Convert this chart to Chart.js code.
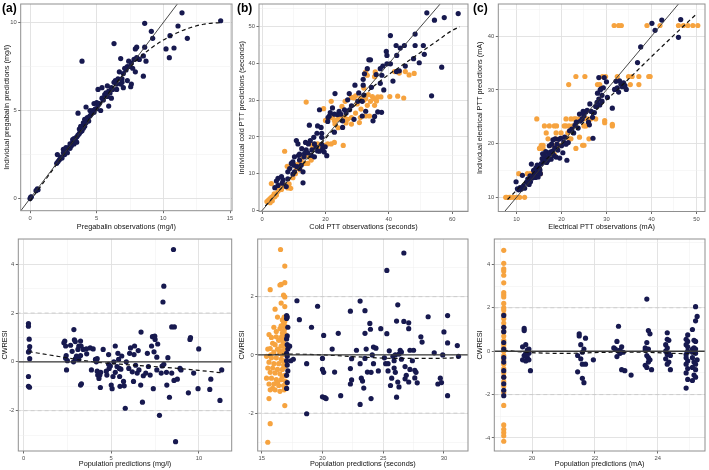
<!DOCTYPE html>
<html>
<head>
<meta charset="utf-8">
<script src="https://cdn.jsdelivr.net/npm/chart.js@4.4.0/dist/chart.umd.min.js"></script>
<style>
  body { margin: 0; background: #fff; width: 709px; height: 470px; position: relative; overflow: hidden; }
  canvas { position: absolute; }
  .tag { position: absolute; font: bold 12px "Liberation Sans", Arial, sans-serif; line-height: 12px; color: #000; }
</style>
</head>
<body>
<div class="tag" style="left:2px;top:2px">(a)</div>
<div class="tag" style="left:237px;top:2px">(b)</div>
<div class="tag" style="left:473px;top:2px">(c)</div>
<script>
// ---- data ----
const NAVY = "#17194f";
const ORANGE = "#f6a33f";

// (a) pregabalin: [observation, individual prediction]
const pregNavy = [
  [0,0],[0.05,0.08],[0.1,0.1],[0.45,0.45],[0.55,0.55],[0.6,0.5],
  [2.0,2.0],[2.05,2.5],[2.1,2.1],[2.2,2.2],[2.3,2.35],[2.4,2.3],[2.5,2.6],[2.5,2.8],[2.6,2.5],[2.7,2.7],[2.7,2.9],[2.8,2.6],[2.9,2.9],[3.0,2.85],[3.0,3.1],[3.1,3.0],[3.2,3.2],[3.2,3.35],[3.3,3.1],[3.3,3.4],[3.4,3.3],[3.5,3.5],[3.5,3.2],[3.6,3.6],[3.6,4.85],[3.7,3.7],[3.7,3.95],[3.8,3.8],[3.8,4.1],[3.9,3.85],[3.9,7.8],
  [4.0,4.0],[4.0,4.3],[4.1,4.1],[4.1,4.5],[4.2,4.3],[4.2,5.2],[4.3,4.6],[4.4,4.4],[4.5,4.7],[4.5,5.0],[4.6,4.8],[4.7,5.0],[4.8,4.9],[4.8,5.4],[4.9,5.1],[5.0,5.1],[5.0,5.45],[5.1,5.3],[5.1,6.2],[5.2,5.4],[5.3,5.0],[5.4,5.7],[5.4,6.3],[5.5,5.6],[5.6,5.9],[5.7,6.0],[5.8,5.8],[5.8,6.4],[5.9,6.1],[5.9,5.25],
  [6.0,6.0],[6.1,6.3],[6.1,5.7],[6.2,6.2],[6.3,8.8],[6.3,6.6],[6.4,6.7],[6.5,6.5],[6.5,6.2],[6.6,6.8],[6.7,7.2],[6.8,7.95],[6.8,6.5],[6.9,6.8],[6.9,6.6],[7.0,7.1],[7.0,6.3],[7.1,7.4],[7.2,7.3],[7.3,7.5],[7.3,6.7],[7.4,7.8],[7.5,7.5],[7.6,7.7],[7.6,6.5],[7.55,6.35],[7.7,7.4],[7.8,7.9],[7.9,8.5],[7.9,7.2],
  [8.0,8.6],[8.0,8.0],[8.2,7.9],[8.5,8.1],[8.5,6.95],[8.6,9.95],[8.6,8.6],[8.7,7.8],[9.1,9.5],[9.2,9.1],[10.2,8.5],[10.45,8.0],[10.5,9.25],[10.8,8.55],[11.1,9.8],[11.4,10.55],[11.8,9.1],[14.3,10.1]
];
const pregLoessX = [0, 1, 2, 3, 4, 5, 6, 7, 8, 9, 10, 11, 12, 13, 14.3];
const pregLoessY = [-0.15, 0.9, 1.95, 3.0, 4.05, 5.1, 6.1, 7.05, 7.85, 8.5, 9.0, 9.4, 9.7, 9.9, 10.0];

// (b) cold PTT
const coldNavy = [
  [52,53.8],[54.4,51.8],[57.5,52.5],[61.9,53.6],[56.7,39.0],[53.5,31.2],
  [48.3,48.0],[48.3,44.9],[50.9,44.9],[51.2,42.5],[49.6,40.2],[47.8,41.3],[44.9,44.9],[42.3,44.9],[43.6,44.2],[42.5,42.2],[40.5,47.6],[39.2,43.3],[39.4,42.2],[39.4,39.9],[38.1,39.3],[40.5,39.9],[41.3,35.2],[42.4,37.8],[43.3,38.0],[45.2,39.3],
  [37.3,38.6],[37.8,36.8],[37.3,34.6],[38.4,32.8],[37.7,26.7],[36.5,26.8],[35.5,25.6],[33.7,41.0],[34.2,41.0],[33.2,38.6],[32.3,37.2],[31.9,35.7],[31.9,34.1],[32.1,31.4],[31.6,29.7],[30.2,29.7],[29.3,34.1],[27.0,30.1],[28.2,28.5],[27.6,27.4],[26.0,27.4],[24.3,27.0],[23.8,26.1],[22.8,26.2],[22.2,27.9],[23.0,31.8],[21.2,25.7],[20.7,24.2],[25.4,22.6],[25.4,24.4],[29.0,24.8],[31.6,25.7],[32.7,27.0],[35.0,24.4],
  [18.1,27.4],[17.5,23.0],[18.8,21.0],[18.8,19.9],[18.8,18.0],[19.1,16.8],[19.6,15.9],[20.4,14.9],[17.5,16.2],[17.0,17.2],[16.5,18.1],[16.3,19.9],[14.9,23.2],[14.6,18.1],[15.7,16.5],[13.9,16.5],[13.4,15.5],[11.8,15.3],[11.5,15.0],[10.8,19.0],[11.3,18.1],[10.2,14.6],[9.7,13.2],[10.0,12.3],[11.0,11.9],[11.8,11.4],[12.3,12.3],[12.9,10.5],[12.9,7.5],[10.2,10.5],[9.7,9.9],[8.1,10.5],[8.1,8.6],[7.6,6.5],[6.6,8.3],[6.1,9.2],[5.0,8.7],[4.5,8.0],[5.0,6.8],[4.0,6.2],[6.3,7.4],[8.7,11.4],[9.2,12.8],
  [13.7,18.5],[14.4,15.7],[15.5,15.0],[16.5,14.6],[18.1,16.1],[19.9,17.3],[11.8,13.7],[13.2,14.6],[12.5,16.8],[15.2,19.0],[17.3,21.0],[18.6,22.6],[22.8,21.3],[27.5,31.8],[30.5,32.0],[26.5,26.5],[24.8,26.2],[21.5,26.6],[20.8,25.3],[34.5,33.5],[36.0,37.0]
];
const coldOrange = [
  [1.5,2.4],[2.0,2.8],[2.5,3.2],[3.0,3.6],[3.5,3.9],[4.0,3.7],[2.5,2.1],[3.2,2.6],[4.5,4.2],[5.0,5.2],[2.9,7.3],[7.1,16.1],[7.1,6.6],[8.1,6.1],[6.1,5.7],[7.9,12.0],[9.7,8.9],[10.8,11.4],[11.8,12.8],[12.3,13.7],[13.4,12.8],[12.9,14.6],[13.9,15.0],[15.0,14.6],[14.4,12.8],
  [15.5,18.0],[16.5,18.0],[17.5,18.1],[18.6,17.7],[19.6,17.7],[20.7,18.1],[21.8,18.1],[22.8,18.5],[25.6,17.7],[15.5,13.7],[13.9,29.5],[19.4,27.7],[21.8,29.7],[22.2,25.3],[22.8,24.4],[23.8,24.8],[24.9,25.7],[26.0,25.3],[27.0,24.8],[28.2,25.3],[28.2,23.5],[30.7,23.9],[25.2,28.3],[26.2,29.7],[28.2,30.8],[29.0,30.6],[29.5,31.2],
  [31.0,30.6],[32.1,30.0],[32.7,30.4],[31.2,27.6],[32.7,25.7],[33.9,25.7],[34.2,29.7],[35.5,30.4],[36.1,29.8],[35.5,28.6],[33.2,28.6],[32.1,33.3],[32.7,37.7],[33.2,36.8],[35.5,36.4],[35.7,37.7],[37.5,30.9],[40.3,31.0],[42.8,31.1],[44.7,30.6],[41.8,37.8],[43.3,37.4],[45.2,37.8],[46.4,36.9],[48.0,37.3],[31.0,25.3],
  [5.5,6.3],[6.8,7.0],[8.5,7.2],[10.5,10.0],[11.0,12.5],[9.0,6.0],[12.0,11.0],[20.0,24.5],[21.0,25.0],[23.0,23.5],[24.0,22.5],[26.5,23.8],[29.5,26.5],[30.0,29.0],[33.5,31.5],[34.8,31.0],[36.5,30.9],[16.0,17.0],[18.0,17.2],[6.0,6.8],[3.8,4.5]
];
const coldLoessX = [1, 5, 10, 15, 20, 25, 30, 35, 40, 45, 50, 55, 60, 62.4];
const coldLoessY = [1.2, 5.0, 9.8, 14.6, 19.6, 24.5, 29.2, 33.6, 37.0, 40.0, 43.0, 46.0, 49.0, 50.0];

// (c) electrical PTT
const elecNavy = [
  [9.9,12.9],[10.2,11.6],[10.5,11.4],[10.8,11.8],[11.0,11.5],[11.3,14.1],[11.5,12.1],[11.8,11.7],[12.2,12.8],[12.5,13.4],[12.8,12.4],[13.0,14.0],[13.1,12.9],[13.3,16.2],[13.5,13.6],[13.8,15.0],[14.0,14.2],[14.2,13.7],[14.3,15.5],[14.5,14.8],[14.6,16.0],[14.8,13.8],[14.9,14.6],[15.0,15.8],[15.2,15.1],[15.3,14.4],[15.5,16.3],[15.7,17.2],[15.8,18.1],[16.0,16.6],[16.2,17.8],[16.4,17.0],[16.5,18.5],[16.7,16.5],[16.9,17.4],[17.0,16.9],[17.2,18.0],[17.3,19.6],[17.5,18.4],[17.7,17.1],[17.8,19.9],[18.0,18.6],[18.1,20.7],[18.3,17.8],[18.5,19.2],[18.6,20.9],[18.8,17.5],[19.0,19.9],[19.2,18.8],[19.4,20.8],[19.6,17.3],[19.8,21.0],
  [20.0,19.6],[20.3,18.3],[20.5,20.3],[20.7,21.2],[21.0,19.9],[21.2,16.9],[21.5,20.2],[21.8,22.4],[22.3,22.7],[22.7,22.0],[23.0,23.4],[23.3,24.0],[23.7,22.9],[24.0,25.5],[24.2,24.2],[24.6,24.6],[24.8,26.0],[25.0,25.2],[25.4,25.9],[25.7,26.2],[26.0,24.0],[26.2,23.5],[26.3,27.4],[26.6,26.0],[26.9,24.9],[27.0,21.0],[27.3,25.8],[27.6,26.9],[27.9,27.7],[28.0,29.4],[28.3,28.3],[28.5,27.2],[28.8,30.2],[29.0,27.9],[29.3,30.4],[29.5,32.3],[30.0,31.5],[30.2,28.6],[28.3,32.3],[28.6,30.0],[29.0,29.0],
  [31.3,26.6],[31.8,30.1],[32.1,31.6],[32.4,30.4],[32.7,29.6],[32.9,31.7],[33.2,31.1],[33.5,30.6],[33.8,31.3],[34.1,30.8],[34.4,30.1],[36.9,35.1],[37.6,38.0],[40.1,42.4],[40.8,41.1],[42.3,43.0],[46.0,39.8],[46.5,43.1]
];
const elecOrange = [
  [31.7,42],[32.7,42],[33.3,42],[39.0,42],[41.9,42],[46.0,42],[47.1,42],[48.1,42],[49.2,42],[50.3,42],
  [23.2,32.5],[25.2,32.5],[29.1,32.5],[29.8,32.5],[32.4,32.5],[34.9,32.5],[35.7,32.5],[37.2,32.5],[39.4,32.5],[39.7,32.5],
  [21.6,31],[28.0,31],[28.5,31],[33.9,31],[35.3,31],[37.2,31],
  [21.0,24.6],[22.1,24.6],[22.8,24.6],[23.2,24.6],[23.9,24.6],[24.6,24.6],[25.0,24.6],[25.7,24.6],[26.5,24.6],[27.6,24.6],[29.6,24.3],[14.5,24.6],
  [16.2,23.3],[17.3,23.3],[18.4,23.3],[18.9,23.3],[20.6,23.3],[21.0,23.3],[21.7,23.3],[22.5,23.3],[23.2,23.3],[25.0,23.3],[25.4,23.3],[31.3,23.3],[29.6,23.9],[31.3,23.6],
  [16.6,22.0],[18.8,22.0],[19.9,22.0],[21.4,22.0],
  [17.0,20.9],[18.8,20.9],[21.7,20.9],[22.1,20.9],[26.1,20.9],[24.0,21.2],
  [15.5,19.7],[15.9,19.7],[18.1,19.7],[19.0,19.7],[19.6,19.7],[24.7,19.7],[25.0,19.7],
  [15.1,19.1],[15.9,19.1],[23.2,19.1],[18.0,18.0],[18.4,18.0],
  [10.5,14.4],[12.4,14.4],[13.1,14.4],[13.8,14.4],[15.3,14.4],
  [7.6,10],[7.8,10],[8.4,10],[8.7,10],[9.3,10],[10.0,10],[10.7,10],[11.8,10]
];
const elecLoessX = [8, 10, 15, 20, 25, 30, 35, 40, 45, 50.2];
const elecLoessY = [9.6, 11.3, 15.7, 19.9, 24.0, 28.1, 32.1, 36.2, 40.2, 44.3];

// bottom row: [population prediction, CWRESI]
const pregResNavy = [
  [0.28,1.57],[0.28,1.46],[0.32,0.93],[0.35,0.62],[0.32,0.44],[0.28,0.4],[0.35,0.13],[0.28,-0.6],[0.28,-1.0],[0.34,-1.04],
  [2.3,0.78],[2.35,0.85],[2.4,0.65],[2.43,0.26],[2.4,0.15],[2.5,0.05],[2.45,-0.33],[2.68,0.68],[2.87,1.32],[2.9,0.9],[2.95,0.83],[2.77,0.43],[2.85,0.0],[2.96,0.13],[3.02,0.24],[3.1,0.51],[3.15,0.65],[3.15,0.1],[3.25,0.26],[3.25,0.85],[3.28,0.65],[3.25,-0.95],[3.3,-0.9],[3.4,0.51],[3.58,0.53],[3.6,0.33],[3.8,0.57],[3.87,-0.33],[3.97,0.53],
  [4.1,0.1],[4.15,0.0],[4.2,0.13],[4.2,-0.38],[4.23,-0.54],[4.3,-0.68],[4.35,-0.54],[4.38,-1.05],[4.4,-0.43],[4.54,0.51],[4.72,-0.38],[4.75,-0.54],[4.85,-0.1],[4.85,0.3],[4.88,-0.27],[4.95,-0.17],[5.0,-0.95],[5.05,-1.1],[5.1,-0.6],[5.15,0.0],[5.23,0.65],[5.23,-0.43],[5.33,-0.19],[5.38,0.35],[5.42,0.1],[5.46,-0.27],[5.48,-0.6],[5.5,-1.0],[5.55,-0.3],[5.6,0.24],[5.7,-0.8],[5.74,-0.98],[5.8,-1.9],[5.86,0.0],
  [6.0,-0.27],[6.05,0.35],[6.1,0.57],[6.2,-0.41],[6.27,-0.8],[6.3,0.3],[6.33,0.65],[6.39,-0.14],[6.48,-0.46],[6.54,0.46],[6.58,-0.33],[6.68,-0.95],[6.7,1.22],[6.78,-1.65],[6.83,-0.57],[6.97,-0.46],[7.06,0.35],[7.12,-0.19],[7.22,-0.54],[7.3,0.65],[7.35,1.03],[7.4,-1.1],[7.44,0.41],[7.48,1.05],[7.5,0.92],[7.6,-0.33],[7.6,0.19],[7.65,0.73],[7.75,-2.19],[7.85,-0.46],[7.9,-0.17],[7.95,2.45],
  [8.0,3.1],[8.0,-0.1],[8.15,-0.43],[8.17,-0.95],[8.23,0.17],[8.32,-1.45],[8.45,1.43],[8.6,1.43],[8.45,-0.46],[8.55,4.6],[8.58,-0.76],[8.67,-3.27],[8.77,-0.71],[8.92,-0.27],[8.98,-0.33],[9.49,0.92],[9.52,0.99],[9.4,-1.27],[9.7,-0.46],[9.95,-1.1],[9.99,0.53],[10.62,-1.13],[10.68,-0.71],[11.2,-1.58],[11.3,-0.33]
];
const pregResLoessX = [0.3, 2, 4, 6, 8, 10, 11.3];
const pregResLoessY = [0.42, 0.22, 0.0, -0.12, -0.22, -0.35, -0.45];

const coldResNavy = [
  [17.05,1.35],[17.1,1.3],[17.05,1.25],[17.15,0.95],[17.1,0.65],[17.05,0.55],[17.1,0.35],[17.15,0.2],[17.05,0.05],[17.1,-0.05],[17.05,-0.2],[17.1,-0.35],[17.15,-0.55],[17.05,-0.7],[17.1,-0.95],[17.05,-1.15],[17.3,0.3],[17.6,-0.15],[17.4,-0.2],
  [17.9,1.86],[18.1,1.21],[18.7,-2.02],[18.7,-0.3],[19.1,0.95],[19.6,1.67],[20.0,-0.12],[20.1,0.67],[20.0,-0.5],[20.1,-0.6],[20.0,-1.44],[20.2,-1.47],[20.3,-1.5],[20.8,0.2],[21.0,-0.59],[21.3,0.74],[21.5,-1.4],
  [22.3,1.5],[22.3,-0.47],[22.3,-1.0],[22.4,-0.86],[22.4,-0.13],[22.8,0.16],[23.1,1.85],[23.1,-0.3],[23.2,-0.8],[23.3,-0.9],[23.1,-1.7],[23.4,-1.14],[23.5,1.52],[23.5,0.74],[23.6,0.2],[23.7,-0.59],[23.5,-0.12],[23.9,1.08],[23.95,0.88],
  [24.0,-0.6],[24.0,-1.5],[24.1,0.0],[24.2,0.27],[24.2,-0.3],[24.4,0.23],[24.6,-0.55],[24.8,0.9],[25.1,-0.1],[25.2,-0.3],[25.3,2.9],[25.3,0.73],[25.4,-0.3],[25.4,-0.55],[25.5,0.14],[25.6,-1.05],[25.7,-0.8],[25.8,-0.05],[25.9,-0.2],[26.0,0.0],[25.9,-0.45],[26.0,-0.6],[26.1,-1.45],[26.1,1.16],
  [26.2,1.72],[26.2,-0.93],[26.3,-1.1],[26.3,0.03],[26.4,0.16],[26.5,-0.15],[26.5,0.1],[26.7,3.5],[26.7,1.15],[26.8,-0.82],[26.8,-0.4],[26.9,-0.7],[27.1,1.1],[27.1,0.9],[27.1,-0.93],[27.2,-0.5],[27.2,0.16],[27.4,-0.2],[27.5,0.16],[27.6,-0.53],[27.6,-0.79],[27.7,-0.6],[27.8,-0.96],
  [28.1,0.62],[28.2,0.44],[28.7,1.31],[29.2,0.07],[29.5,-1.0],[29.7,-0.8],[29.8,-0.95],[29.9,0.0],[30.0,0.79],[30.3,0.41],[30.3,1.35],[30.3,-1.4],[31.1,0.32],[31.2,-0.05]
];
const coldResOrange = [
  [15.5,-3.0],[15.7,-2.36],[15.6,-1.5],[16.9,-1.74],[16.55,3.62],[16.9,3.05],[16.9,2.48],[16.5,2.4],[16.6,2.42],[15.7,2.24],[16.8,2.05],[16.9,1.99],[16.1,1.57],[16.9,1.66],[16.6,1.78],[16.3,1.3],[16.7,1.2],[16.8,1.1],[16.9,1.0],[16.0,0.95],[16.5,0.9],[16.85,0.85],[16.7,0.75],[15.6,0.7],[15.8,0.6],[16.2,0.62],[16.6,0.6],[16.9,0.55],[16.4,0.5],[16.75,0.45],
  [15.9,0.4],[16.1,0.35],[16.6,0.3],[16.9,0.3],[15.5,0.2],[15.7,0.22],[16.3,0.2],[16.8,0.15],[16.0,0.1],[16.5,0.05],[16.7,0.0],[15.4,-0.05],[15.8,-0.1],[16.2,-0.1],[16.6,-0.15],[16.9,-0.2],[15.6,-0.25],[16.0,-0.3],[16.4,-0.3],[16.8,-0.35],[15.5,-0.45],[15.9,-0.45],[16.3,-0.5],[16.7,-0.5],[15.7,-0.6],[16.1,-0.62],[16.5,-0.65],[16.9,-0.7],
  [15.4,-0.8],[15.8,-0.8],[16.2,-0.85],[16.6,-0.85],[16.95,-0.9],[15.6,-1.0],[16.0,-1.0],[16.4,-1.05],[16.8,-1.05],[15.7,-1.2],[16.1,-1.2],[16.5,-1.25],[16.85,-1.2],[16.3,-0.95],[16.7,-0.75],[16.9,-0.4],[16.95,0.1],[16.95,0.7],[16.6,1.0],[16.85,1.3],[16.95,-1.1],[15.9,-1.15],[16.2,0.8],[15.75,0.0],[16.75,-0.2],[16.45,0.15],[16.9,1.15],[16.8,0.65]
];
const coldResLoessX = [15.5, 17, 20, 23, 26, 29, 31.2];
const coldResLoessY = [0.0, 0.03, 0.0, -0.07, -0.12, -0.12, -0.1];

const elecResNavy = [
  [19.1,1.65],[19.1,1.1],[19.1,0.9],[19.1,0.4],[19.1,0.1],[19.1,-0.3],[19.1,-0.5],[19.1,-0.9],[19.1,-1.2],[19.1,-1.5],[19.1,-1.8],[19.1,-2.05],
  [19.75,1.05],[19.75,0.95],[19.7,0.2],[19.8,0.3],[19.85,0.05],[19.9,-0.1],[19.75,-0.2],[19.7,-0.4],[19.8,-0.45],[19.85,-0.3],[19.9,0.1],[19.95,-0.9],[19.8,-0.1],[19.9,-0.4],
  [21.5,0.8],[21.5,0.7],[21.55,0.3],[21.45,-0.2],[21.6,-0.05],[21.65,0.1],[21.7,0.6],[21.6,-0.6],[21.7,-0.6],[21.45,-0.95],[21.6,-1.25],[21.65,-1.45],[21.95,-0.4],[21.55,-0.35],
  [22.75,1.15],[22.7,0.45],[22.6,0.15],[22.65,0.1],[22.7,-0.25],[22.8,0.05],[22.85,0.2],[22.9,-0.05],[22.75,0.0],[22.85,-0.85],[22.95,-0.9],[23.15,-1.1],[22.8,-0.1],
  [23.65,2.4],[23.7,0.95],[23.75,0.8],[23.65,0.4],[23.6,0.15],[23.7,0.1],[23.65,-0.2],[23.7,-0.3],[23.75,-0.4],[23.6,-0.65],[23.65,-0.75],[23.8,-0.85],[23.7,-0.5],[23.6,0.05],
  [24.3,0.85],[24.3,0.55],[24.35,0.5],[24.25,0.3],[24.3,0.15],[24.35,-0.1],[24.3,-0.15],[24.25,-0.35],[24.35,-0.5],[24.3,-0.6],[24.4,-0.85],[24.25,0.0],[24.4,-0.2],
  [24.95,0.75],[24.9,0.55],[24.95,0.45],[24.9,0.3],[24.95,0.0],[24.9,-0.15],[24.95,-0.45],[24.9,-0.6],[24.95,-0.8],[24.9,-1.0],[24.95,-1.3],[24.9,-1.7],[24.95,0.2],[24.9,-0.3],
  [25.2,2.05],[25.25,1.6],[25.2,1.4],[25.1,1.0],[25.15,0.5],[25.2,0.45],[25.1,0.1],[25.15,0.15],[25.2,-0.1],[25.1,-0.3],[25.15,-0.5],[25.2,-0.6],[25.1,-0.75],[25.2,-0.85],[25.15,-1.1],[25.1,-1.35],[25.2,-1.2],[25.25,-0.4],[25.1,-0.05],[25.2,0.1]
];
const elecResOrangeY = [4.65,4.05,3.8,3.7,3.5,3.15,2.7,2.6,2.5,2.2,2.0,1.9,1.7,1.5,1.3,1.1,0.9,0.7,0.5,0.3,0.15,0,-0.2,-0.4,-0.6,-0.8,-1.0,-1.2,-1.4,-1.6,-1.9,-2.5,-3.4,-3.6,-3.75,-3.9,-4.15];
const elecResOrangeX = 19.1;
const elecResLoessX = [19.1, 19.8, 21, 22.5, 23.5, 24.5, 25.2];
const elecResLoessY = [0.05, -0.05, -0.1, -0.05, -0.05, -0.1, -0.12];

// axis ticks (major labelled, minor grid only)
const pregXTicks = [0, 5, 10, 15], pregXMinor = [2.5, 7.5, 12.5];
const pregYTicks = [0, 5, 10], pregYMinor = [2.5, 7.5];
const coldXTicks = [0, 20, 40, 60], coldXMinor = [10, 30, 50];
const coldYTicks = [0, 10, 20, 30, 40, 50], coldYMinor = [5, 15, 25, 35, 45, 55];
const elecXTicks = [10, 20, 30, 40, 50], elecXMinor = [15, 25, 35, 45];
const elecYTicks = [10, 20, 30, 40], elecYMinor = [15, 25, 35, 45];
const pregResXTicks = [0, 5, 10], pregResXMinor = [2.5, 7.5];
const coldResXTicks = [15, 20, 25, 30], coldResXMinor = [17.5, 22.5, 27.5];
const elecResXTicks = [20, 22, 24], elecResXMinor = [19, 21, 23, 25];
const resYTicksA = [-2, 0, 2, 4], resYMinorA = [-3, -1, 1, 3, 5];
const resYTicksB = [-2, 0, 2], resYMinorB = [-3, -1, 1, 3];
const resYTicksC = [-4, -2, 0, 2, 4], resYMinorC = [-3, -1, 1, 3, 5];

// ---- drawing ----
const FONT = '"Liberation Sans", Arial, sans-serif';
const pts = (arr) => arr.map(([x, y]) => ({ x, y }));
const curve = (xs, ys) => xs.map((x, i) => ({ x, y: ys[i] }));
const hline = (y) => [{ x: -1000, y }, { x: 1000, y }];

const borderPlugin = {
  id: "panelBorder",
  afterDraw(chart) {
    const { ctx, chartArea: a } = chart;
    ctx.save();
    ctx.strokeStyle = "#8f8f8f";
    ctx.lineWidth = 1;
    ctx.strokeRect(a.left, a.top, a.right - a.left, a.bottom - a.top);
    ctx.restore();
  },
};

function axis(range, major, minor, title, isX, size, titleOffset) {
  const all = major.concat(minor).filter((v) => v >= range[0] && v <= range[1]).sort((a, b) => a - b);
  const isMajor = (c) => c.tick && major.includes(c.tick.value);
  return {
    type: "linear",
    position: isX ? "bottom" : "left",
    min: range[0],
    max: range[1],
    bounds: "data",
    afterBuildTicks: (s) => { s.ticks = all.map((v) => ({ value: v })); },
    afterFit: (s) => {
      if (isX) s.height = size; else s.width = size;
      s.paddingLeft = s.paddingRight = s.paddingTop = s.paddingBottom = 0;
    },
    ticks: {
      autoSkip: false, maxRotation: 0, padding: 1.5,
      color: "#4d4d4d", font: { size: 5.8, family: FONT },
      callback: (v) => (major.includes(v) ? String(v) : ""),
    },
    grid: {
      color: (c) => (isMajor(c) ? "#e0e0e0" : "#eeeeee"),
      lineWidth: (c) => (isMajor(c) ? 0.9 : 0.5),
      tickLength: 2.5,
      tickColor: (c) => (isMajor(c) ? "#444" : "rgba(0,0,0,0)"),
      tickWidth: 0.8,
    },
    border: { display: false },
    title: {
      display: true, text: title, color: "#111",
      font: { size: 7.3, family: FONT, lineHeight: 1.2 },
      padding: isX ? { top: 0, bottom: titleOffset - 4.4 } : { top: titleOffset - 4.4, bottom: 0 },
    },
  };
}

function panel(box, datasets) {
  const cv = document.createElement("canvas");
  cv.width = box.w;
  cv.height = box.h;
  cv.style.left = box.x + "px";
  cv.style.top = box.y + "px";
  document.body.insertBefore(cv, document.body.firstChild);
  const [al, at, ar, ab] = box.area;
  new Chart(cv, {
    type: "scatter",
    data: { datasets },
    options: {
      responsive: false,
      animation: false,
      events: [],
      layout: { padding: { left: 0, top: at - box.y, right: box.x + box.w - ar, bottom: 0 } },
      plugins: { legend: { display: false }, tooltip: { enabled: false } },
      scales: {
        x: axis(box.xr, box.xMajor, box.xMinor, box.xTitle, true, box.y + box.h - ab, box.xTitleOff),
        y: axis(box.yr, box.yMajor, box.yMinor, box.yTitle, false, al - box.x, box.yTitleOff),
      },
    },
    plugins: [borderPlugin],
  });
}

const dots = (data, color) => ({ type: "scatter", data, backgroundColor: color, borderWidth: 0, pointRadius: 2.6 });
const identity = { type: "line", data: [{ x: -100, y: -100 }, { x: 1000, y: 1000 }], borderColor: "#333", borderWidth: 0.9, pointRadius: 0 };
const smooth = (data) => ({ type: "line", data, borderColor: "#111", borderWidth: 1.2, borderDash: [4, 3], pointRadius: 0, tension: 0.4, cubicInterpolationMode: "monotone" });
const zeroLine = { type: "line", data: hline(0), borderColor: "#3a3a3a", borderWidth: 1.4, pointRadius: 0 };
const band = (y) => ({ type: "line", data: hline(y), borderColor: "#c6c6c6", borderWidth: 0.8, borderDash: [4, 3], pointRadius: 0 });

// top row
panel({ x: 0, y: 0, w: 236, h: 235, area: [20.7, 1, 232.5, 210.7], xr: [-0.7, 15.15], yr: [-0.69, 11.05],
  xMajor: pregXTicks, xMinor: pregXMinor, yMajor: pregYTicks, yMinor: pregYMinor,
  xTitle: "Pregabalin observations (mg/l)", yTitle: "Individual pregabalin predictions (mg/l)", xTitleOff: 8.3, yTitleOff: 7 },
  [identity, smooth(curve(pregLoessX, pregLoessY)), dots(pts(pregNavy), NAVY)]);

panel({ x: 236, y: 0, w: 236, h: 235, area: [259, 1, 470, 211.5], xr: [-1.0, 65.0], yr: [-0.3, 56.2],
  xMajor: coldXTicks, xMinor: coldXMinor, yMajor: coldYTicks, yMinor: coldYMinor,
  xTitle: "Cold PTT observations (seconds)", yTitle: "Individual cold PTT predictions (seconds)", xTitleOff: 8.3, yTitleOff: 6.5 },
  [identity, smooth(curve(coldLoessX, coldLoessY)), dots(pts(coldNavy), NAVY), dots(pts(coldOrange), ORANGE)]);

panel({ x: 472, y: 0, w: 237, h: 235, area: [498.3, 1, 707, 211.5], xr: [5.95, 51.9], yr: [7.36, 46.0],
  xMajor: elecXTicks, xMinor: elecXMinor, yMajor: elecYTicks, yMinor: elecYMinor,
  xTitle: "Electrical PTT observations (mA)", yTitle: "Individual electrical PTT predictions (mA)", xTitleOff: 8.3, yTitleOff: 8 },
  [identity, smooth(curve(elecLoessX, elecLoessY)), dots(pts(elecNavy), NAVY), dots(pts(elecOrange), ORANGE)]);

// bottom row
panel({ x: 0, y: 235, w: 236, h: 235, area: [18.3, 237, 231.7, 451], xr: [-0.3, 11.87], yr: [-3.65, 5.03],
  xMajor: pregResXTicks, xMinor: pregResXMinor, yMajor: resYTicksA, yMinor: resYMinorA,
  xTitle: "Population predictions (mg/l)", yTitle: "CWRESI", xTitleOff: 6, yTitleOff: 5.5 },
  [zeroLine, smooth(curve(pregResLoessX, pregResLoessY)), dots(pts(pregResNavy), NAVY), band(2), band(-2)]);

panel({ x: 236, y: 235, w: 236, h: 235, area: [257.7, 237, 470, 451], xr: [14.67, 31.98], yr: [-3.3, 3.98],
  xMajor: coldResXTicks, xMinor: coldResXMinor, yMajor: resYTicksB, yMinor: resYMinorB,
  xTitle: "Population predictions (seconds)", yTitle: "CWRESI", xTitleOff: 6, yTitleOff: 6 },
  [zeroLine, smooth(curve(coldResLoessX, coldResLoessY)), dots(pts(coldResNavy), NAVY), dots(pts(coldResOrange), ORANGE), band(2), band(-2)]);

panel({ x: 472, y: 235, w: 237, h: 235, area: [494.3, 237, 707, 451], xr: [18.8, 25.5], yr: [-4.6, 5.17],
  xMajor: elecResXTicks, xMinor: elecResXMinor, yMajor: resYTicksC, yMinor: resYMinorC,
  xTitle: "Population predictions (mA)", yTitle: "CWRESI", xTitleOff: 6, yTitleOff: 8 },
  [zeroLine, smooth(curve(elecResLoessX, elecResLoessY)), dots(pts(elecResNavy), NAVY),
   dots(elecResOrangeY.map((y) => ({ x: elecResOrangeX, y })), ORANGE), band(2), band(-2)]);
</script>
</body>
</html>
